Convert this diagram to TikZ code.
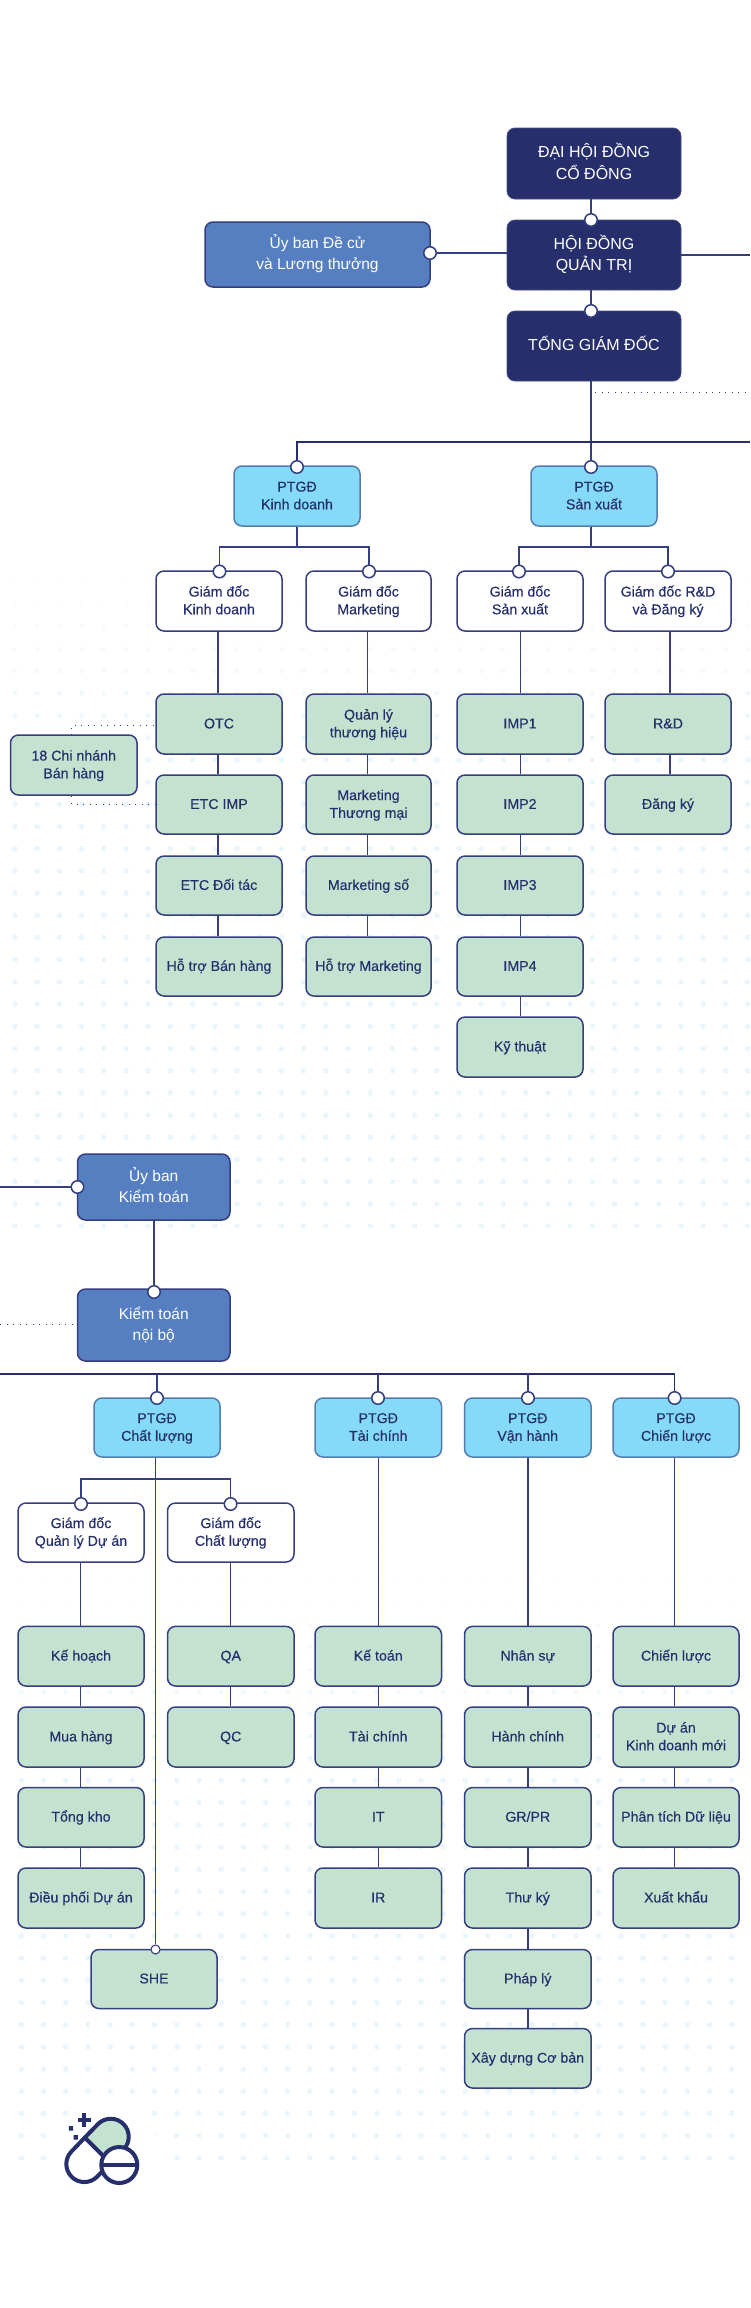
\documentclass[tikz,border=0pt]{standalone}
\usepackage{fontspec}
\setmainfont{Liberation Sans}
\newfontfamily\medfont[RawFeature={embolden=0.35}]{Liberation Sans}
\definecolor{navy}{HTML}{262F6C}
\definecolor{linec}{HTML}{353E7E}
\definecolor{steel}{HTML}{567FC2}
\definecolor{sky}{HTML}{86DAF9}
\definecolor{mint}{HTML}{C3E3D0}
\definecolor{dotc}{HTML}{E9F6FD}
\definecolor{faint}{HTML}{F3F5F7}
\tikzset{
  boxbase/.style={rounded corners=8pt,inner sep=0pt,align=center,line width=1.5pt},
  darkbox/.style={boxbase,fill=navy,draw=navy!85!white,line width=.8pt,text=white,font=\fontsize{16}{21.7}\selectfont},
  bluebox/.style={boxbase,fill=steel,draw=linec,text=white,font=\fontsize{15.5}{20.7}\selectfont},
  skybox/.style={boxbase,fill=sky,draw=linec!60!sky,text=navy,font=\medfont\fontsize{14.2}{17.7}\selectfont},
  whitebox/.style={boxbase,fill=white,draw=linec,text=navy,font=\medfont\fontsize{14.2}{17.7}\selectfont},
  greenbox/.style={boxbase,fill=mint,draw=linec,text=navy,font=\medfont\fontsize{14.2}{17.7}\selectfont},
  pin/.style={circle,fill=white,draw=linec,line width=1.5pt,minimum size=12.5pt,inner sep=0pt},
  smallpin/.style={pin,minimum size=9pt,line width=1.1pt},
  conn/.style={draw=linec,line width=1.2pt},
  mainconn/.style={draw=navy,line width=1.6pt},
  dotconn/.style={draw=linec,line width=.9pt,dash pattern=on 1pt off 5.5pt},
  logoline/.style={draw=navy,line width=4pt,line join=round}
}
\newcommand\bx[7]{%
  \pgfmathsetmacro\bxw{#5-#3}\pgfmathsetmacro\bxh{#6-#4}%
  \pgfmathsetmacro\bxx{(#3+#5)/2}\pgfmathsetmacro\bxy{(#4+#6)/2}%
  \node[#1,minimum width=\bxw pt,minimum height=\bxh pt] (#2) at (\bxx,\bxy) {\rule{0pt}{1.17em}#7\rule[-.55em]{0pt}{.55em}};}
\begin{document}
\begin{tikzpicture}[x=1pt,y=-1pt]
\useasboundingbox (0,0) rectangle (750,2308);
\fill[white] (0,0) rectangle (750,2308);
% faint background dots
\foreach \j in {1,...,15}{
  \pgfmathsetmacro\yy{582.3-22.2*\j}
  \fill[faint] \foreach \i in {0,...,33}{ ({15+22.2*\i},\yy) circle[radius=.7pt] };
}
\foreach \j in {0,...,17}{
  \pgfmathsetmacro\yy{1181.3+22.2*\j}
  \fill[faint] \foreach \i in {0,...,33}{ ({21.3+22.2*\i},\yy) circle[radius=.7pt] };
}
% stronger dots
\begin{scope}
\clip (0,540) rectangle (750,1227.7);
\foreach \j in {0,...,29}{
  \pgfmathsetmacro\yy{582.3+22.2*\j}
  \pgfmathsetmacro\tt{min(100,max(25,(\yy-540)/2.2))}
  \pgfmathsetmacro\rr{1.6+1.2*\tt/100}
  \fill[dotc!\tt!white] \foreach \i in {0,...,33}{ ({15+22.2*\i},\yy) circle[radius=\rr pt] };
}
\end{scope}
\begin{scope}
\clip (0,1540) rectangle (750,2159);
\foreach \j in {0,...,26}{
  \pgfmathsetmacro\yy{1580.7+22.2*\j}
  \pgfmathsetmacro\tt{min(100,max(25,(\yy-1540)/2.4))}
  \pgfmathsetmacro\rr{1.6+1.2*\tt/100}
  \fill[dotc!\tt!white] \foreach \i in {0,...,32}{ ({21.3+22.2*\i},\yy) circle[radius=\rr pt] };
}
\end{scope}
% top
\bx{darkbox}{dhcd}{507}{128}{681}{199}{ĐẠI HỘI ĐỒNG\\CỔ ĐÔNG}
\bx{darkbox}{hdqt}{507}{220}{681}{290}{HỘI ĐỒNG\\QUẢN TRỊ}
\bx{darkbox}{tgd}{507}{311}{681}{381}{TỔNG GIÁM ĐỐC}
\bx{bluebox}{uyban}{205}{222}{430}{287}{Ủy ban Đề cử\\và Lương thưởng}
% PTGD upper
\bx{skybox}{pkd}{234}{466}{360}{526}{PTGĐ\\Kinh doanh}
\bx{skybox}{psx}{531}{466}{657}{526}{PTGĐ\\Sản xuất}
% directors upper
\bx{whitebox}{gkd}{156}{571}{282}{631}{Giám đốc\\Kinh doanh}
\bx{whitebox}{gmk}{306}{571}{431}{631}{Giám đốc\\Marketing}
\bx{whitebox}{gsx}{457}{571}{583}{631}{Giám đốc\\Sản xuất}
\bx{whitebox}{grd}{605}{571}{731}{631}{Giám đốc R\&D\\và Đăng ký}
% green upper
\bx{greenbox}{otc}{156}{694}{282}{754}{OTC}
\bx{greenbox}{etcimp}{156}{775}{282}{834}{ETC IMP}
\bx{greenbox}{etcdt}{156}{856}{282}{915}{ETC Đối tác}
\bx{greenbox}{htbh}{156}{937}{282}{996}{Hỗ trợ Bán hàng}
\bx{greenbox}{qlth}{306}{694}{431}{754}{Quản lý\\thương hiệu}
\bx{greenbox}{mktm}{306}{775}{431}{834}{Marketing\\Thương mại}
\bx{greenbox}{mkso}{306}{856}{431}{915}{Marketing số}
\bx{greenbox}{htmk}{306}{937}{431}{996}{Hỗ trợ Marketing}
\bx{greenbox}{impa}{457}{694}{583}{754}{IMP1}
\bx{greenbox}{impb}{457}{775}{583}{834}{IMP2}
\bx{greenbox}{impc}{457}{856}{583}{915}{IMP3}
\bx{greenbox}{impd}{457}{937}{583}{996}{IMP4}
\bx{greenbox}{kyth}{457}{1017}{583}{1077}{Kỹ thuật}
\bx{greenbox}{rnd}{605}{694}{731}{754}{R\&D}
\bx{greenbox}{dky}{605}{775}{731}{834}{Đăng ký}
\bx{greenbox}{cnbh}{10.5}{735}{137}{795}{18 Chi nhánh\\Bán hàng}
% audit
\bx{bluebox}{ubkt}{77.5}{1154}{230}{1220}{Ủy ban\\Kiểm toán}
\bx{bluebox}{ktnb}{77.5}{1289}{230}{1361}{Kiểm toán\\nội bộ}
% PTGD lower
\bx{skybox}{pcl}{94}{1398}{220}{1457}{PTGĐ\\Chất lượng}
\bx{skybox}{ptc}{315}{1398}{441.5}{1457}{PTGĐ\\Tài chính}
\bx{skybox}{pvh}{464.5}{1398}{591}{1457}{PTGĐ\\Vận hành}
\bx{skybox}{pcb}{613}{1398}{739}{1457}{PTGĐ\\Chiến lược}
\bx{whitebox}{gqd}{18}{1503}{144}{1562}{Giám đốc\\Quản lý Dự án}
\bx{whitebox}{gcl}{167.5}{1503}{294}{1562}{Giám đốc\\Chất lượng}
% green lower
\bx{greenbox}{khoach}{18}{1626.4}{144}{1686}{Kế hoạch}
\bx{greenbox}{mhang}{18}{1707}{144}{1767}{Mua hàng}
\bx{greenbox}{tkho}{18}{1787.5}{144}{1847}{Tổng kho}
\bx{greenbox}{dpda}{18}{1868}{144}{1928}{Điều phối Dự án}
\bx{greenbox}{she}{91}{1949.5}{217}{2008.5}{SHE}
\bx{greenbox}{qa}{167.5}{1626.4}{294}{1686}{QA}
\bx{greenbox}{qc}{167.5}{1707}{294}{1767}{QC}
\bx{greenbox}{kt}{315}{1626.4}{441.5}{1686}{Kế toán}
\bx{greenbox}{tch}{315}{1707}{441.5}{1767}{Tài chính}
\bx{greenbox}{itb}{315}{1787.5}{441.5}{1847}{IT}
\bx{greenbox}{irb}{315}{1868}{441.5}{1928}{IR}
\bx{greenbox}{nsu}{464.5}{1626.4}{591}{1686}{Nhân sự}
\bx{greenbox}{hch}{464.5}{1707}{591}{1767}{Hành chính}
\bx{greenbox}{grpr}{464.5}{1787.5}{591}{1847}{GR/PR}
\bx{greenbox}{tky}{464.5}{1868}{591}{1928}{Thư ký}
\bx{greenbox}{phly}{464.5}{1949.5}{591}{2008.5}{Pháp lý}
\bx{greenbox}{xdcb}{464.5}{2028.5}{591}{2088}{Xây dựng Cơ bản}
\bx{greenbox}{clu}{613}{1626.4}{739}{1686}{Chiến lược}
\bx{greenbox}{dakd}{613}{1707}{739}{1767}{Dự án\\Kinh doanh mới}
\bx{greenbox}{ptdl}{613}{1787.5}{739}{1847}{Phân tích Dữ liệu}
\bx{greenbox}{xkh}{613}{1868}{739}{1928}{Xuất khẩu}
% pins
\node[pin] (pA) at (591,220) {};
\node[pin] (pB) at (591,311) {};
\node[pin] (pU) at (430,253) {};
\node[pin] (pKD) at (297,467) {};
\node[pin] (pSX) at (591,467) {};
\node[pin] (pG1) at (219.5,571.5) {};
\node[pin] (pG2) at (369,571.5) {};
\node[pin] (pG3) at (519,571.5) {};
\node[pin] (pG4) at (668,571.5) {};
\node[pin] (pKT) at (77.5,1187) {};
\node[pin] (pNB) at (154,1292) {};
\node[pin] (pCL) at (157,1398) {};
\node[pin] (pTC) at (378,1398) {};
\node[pin] (pVH) at (528,1398) {};
\node[pin] (pCB) at (674.6,1398) {};
\node[pin] (pQD) at (81,1504) {};
\node[pin] (pGC) at (230.6,1504) {};
\node[smallpin] (pSH) at (155.5,1949.5) {};
% helper coordinates
\coordinate (edgeA) at (750,255);
\coordinate (edgeB) at (750,442);
\coordinate (edgeC) at (750,392);
\coordinate (dotS) at (595,392);
\coordinate (leftA) at (0,1187);
\coordinate (leftB) at (0,1374);
\coordinate (leftC) at (0,1324);
\coordinate (dotE) at (75,1324);
\coordinate (midKD) at (297,547);
\coordinate (midSX) at (591,547);
\coordinate (midCL) at (155.5,1479);
\coordinate (colA) at (218,0);
\coordinate (colB) at (367.5,0);
\coordinate (colC) at (520.6,0);
\coordinate (colD) at (670,0);
\coordinate (colE) at (80.4,0);
\coordinate (colF) at (230.6,0);
\coordinate (colG) at (378.5,0);
\coordinate (colH) at (528,0);
\coordinate (colI) at (674.6,0);
\coordinate (mA) at (71.5,725);
\coordinate (mB) at (71.5,804);
\coordinate (mC) at (71.5,735);
\coordinate (mD) at (71.5,796);
% connectors
\draw[conn] (dhcd.south -| pA) -- (pA);
\draw[conn] (hdqt.south -| pB) -- (pB);
\draw[conn] (tgd.south -| pSX) -- (pSX);
\draw[conn] (pU) -- (pU -| hdqt.west);
\draw[conn] (hdqt.east |- edgeA) -- (edgeA);
\draw[dotconn] (dotS) -- (edgeC);
\draw[mainconn] (pKD) |- (edgeB);
\draw[conn] (pkd.south -| midKD) -- (midKD);
\draw[conn] (psx.south -| midSX) -- (midSX);
\draw[conn] (pG1) |- (midKD) -| (pG2);
\draw[conn] (pG3) |- (midSX) -| (pG4);
\draw[conn] (leftA) -- (pKT);
\draw[conn] (ubkt.south -| pNB) -- (pNB);
\draw[dotconn] (leftC) -- (dotE);
\draw[mainconn] (leftB) -| (pCB);
\draw[conn] (pCL) -- (pCL |- leftB);
\draw[conn] (pTC) -- (pTC |- leftB);
\draw[conn] (pVH) -- (pVH |- leftB);
\draw[conn] (pQD) |- (midCL) -| (pGC);
\draw[conn] (pcl.south -| pSH) -- (pSH);
\foreach \up/\dn/\cc in {gkd/otc/colA,otc/etcimp/colA,etcimp/etcdt/colA,etcdt/htbh/colA,
  gmk/qlth/colB,qlth/mktm/colB,mktm/mkso/colB,mkso/htmk/colB,
  gsx/impa/colC,impa/impb/colC,impb/impc/colC,impc/impd/colC,impd/kyth/colC,
  grd/rnd/colD,rnd/dky/colD,
  gqd/khoach/colE,khoach/mhang/colE,mhang/tkho/colE,tkho/dpda/colE,
  gcl/qa/colF,qa/qc/colF,
  ptc/kt/colG,kt/tch/colG,tch/itb/colG,itb/irb/colG,
  pvh/nsu/colH,nsu/hch/colH,hch/grpr/colH,grpr/tky/colH,tky/phly/colH,phly/xdcb/colH,
  pcb/clu/colI,clu/dakd/colI,dakd/ptdl/colI,ptdl/xkh/colI}
  {\draw[conn] (\up.south -| \cc) -- (\dn.north -| \cc);}
\draw[dotconn] (mC) -- (mA) -- (mA -| otc.west);
\draw[dotconn] (mD) -- (mB) -- (mB -| etcimp.west);
% logo
\begin{scope}[x=1pt,y=1pt]
\fill[white] (106,-2149) circle[radius=52pt];
\filldraw[logoline,fill=mint] (84.8,-2137.6) -- (98,-2124) arc (135:-45:18pt) -- (110.2,-2163.1) -- cycle;
\filldraw[logoline,fill=white] (84.8,-2137.6) -- (71.6,-2151.3) arc (135:315:18pt) -- (110.2,-2163.1) -- cycle;
\filldraw[logoline,fill=white] (119.3,-2165) circle[radius=18pt];
\draw[logoline] (101.3,-2165) -- (137.3,-2165);
\draw[navy,line width=4.3pt] (77.6,-2120) -- (91,-2120) (84.3,-2113.3) -- (84.3,-2126.7);
\fill[navy] (68.8,-2126.1) rectangle (73.2,-2130.5) (73.5,-2135.1) rectangle (77.9,-2139.5);
\end{scope}
\end{tikzpicture}
\end{document}
